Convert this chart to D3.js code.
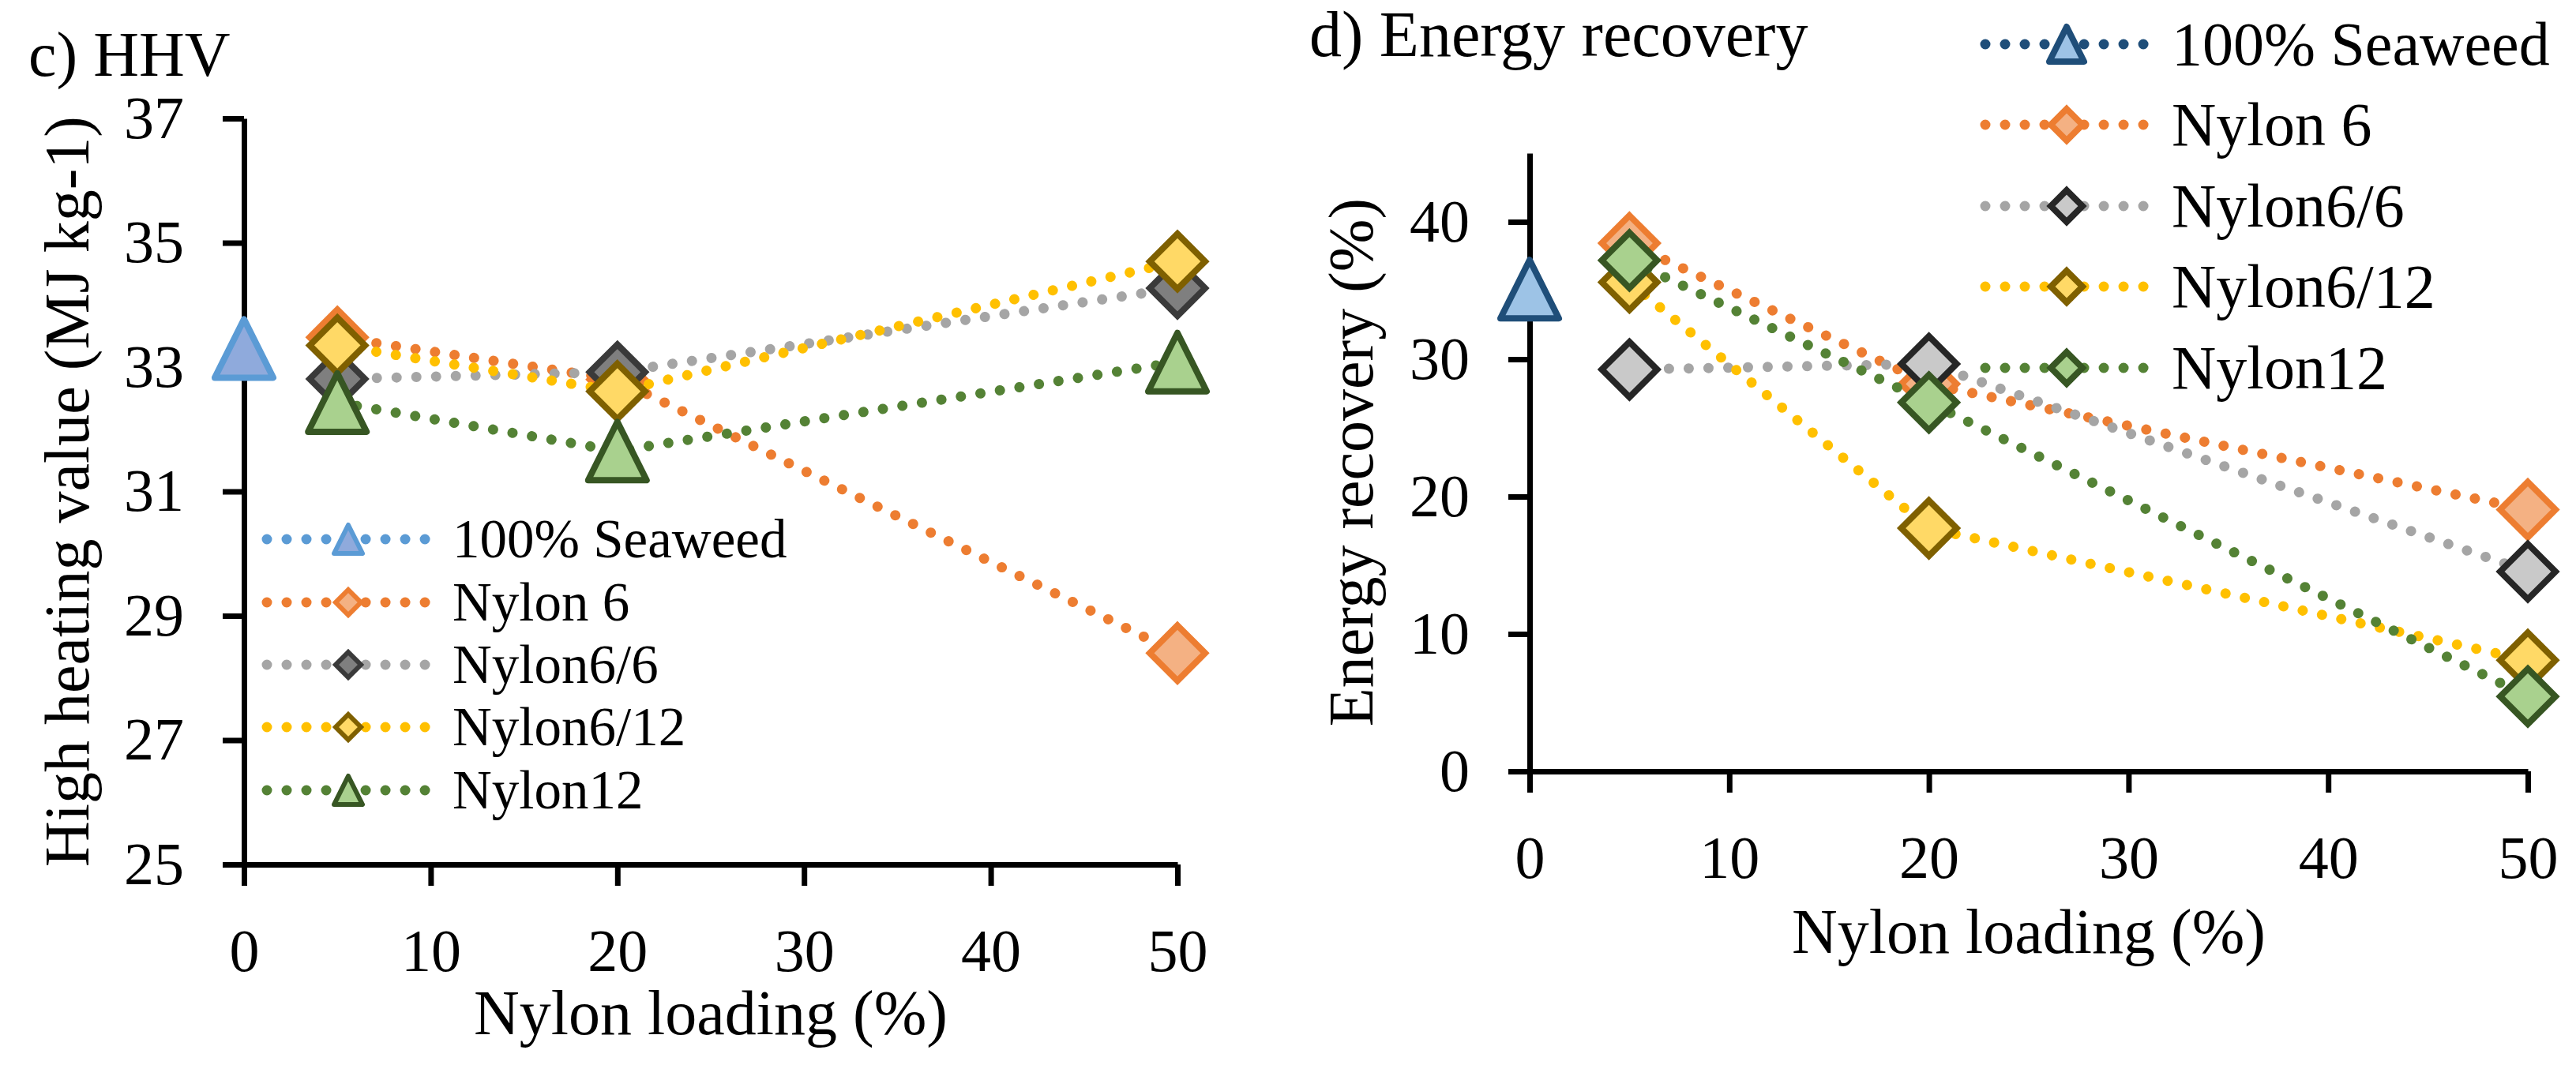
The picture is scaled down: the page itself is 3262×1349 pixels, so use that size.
<!DOCTYPE html>
<html>
<head>
<meta charset="utf-8">
<script src="https://cdn.jsdelivr.net/npm/d3@7"></script>
<style>
  body { margin: 0; background: #fff; }
  text { font-family: "Liberation Serif", "DejaVu Serif", serif; fill: #000; }
</style>
</head>
<body>
<svg id="chart" width="3262" height="1349"></svg>
<script>
// === Data ===
const loading = [5, 20, 50];
const seaweedLoading = [0];
const seriesNames = ['100% Seaweed', 'Nylon 6', 'Nylon6/6', 'Nylon6/12', 'Nylon12'];

// c) HHV, MJ kg-1
const hhvSeaweed = [33.3];
const hhvNylon6 = [33.48, 32.8, 28.4];
const hhvNylon66 = [32.81, 32.92, 34.27];
const hhvNylon612 = [33.35, 32.61, 34.7];
const hhvNylon12 = [32.43, 31.65, 33.08];

// d) Energy recovery, %
const erSeaweed = [35.1];
const erNylon6 = [38.45, 28.2, 19.05];
const erNylon66 = [29.25, 29.66, 14.54];
const erNylon612 = [35.6, 17.7, 8.09];
const erNylon12 = [37.2, 26.85, 5.45];

const xTicks = [0, 10, 20, 30, 40, 50];
const hhvTicks = [25, 27, 29, 31, 33, 35, 37];
const erTicks = [0, 10, 20, 30, 40];

// === Styles ===
const lineColorsC = ['#5B9BD5', '#ED7D31', '#A5A5A5', '#FFC000', '#548235'];
const fillsC = ['#8FAADC', '#F4B183', '#7F7F7F', '#FFD966', '#A9D18E'];
const strokesC = ['#5B9BD5', '#ED7D31', '#3A3A3A', '#7F6000', '#375623'];
const shapesC = ['tri', 'dia', 'dia', 'dia', 'tri'];

const lineColorsD = ['#1F4E79', '#ED7D31', '#A5A5A5', '#FFC000', '#548235'];
const fillsD = ['#9DC3E6', '#F4B183', '#C9C9C9', '#FFD966', '#A9D18E'];
const strokesD = ['#1F4E79', '#ED7D31', '#262626', '#7F6000', '#375623'];
const shapesD = ['tri', 'dia', 'dia', 'dia', 'dia'];

const svg = d3.select('#chart');

function markerPath(shape, h) {
  return shape === 'tri'
    ? `M0,${-h}L${h},${h}L${-h},${h}Z`
    : `M0,${-h}L${h},0L0,${h}L${-h},0Z`;
}

function drawMarker(g, shape, cx, cy, h, fill, stroke, sw) {
  g.append('path')
    .attr('d', markerPath(shape, shape === 'tri' ? h + 2 : h))
    .attr('transform', `translate(${cx},${cy})`)
    .attr('fill', fill)
    .attr('stroke', stroke)
    .attr('stroke-width', sw)
    .attr('stroke-linejoin', shape === 'tri' ? 'round' : 'miter');
}

function drawPanel(p) {
  const g = svg.append('g');
  const x = d3.scaleLinear().domain([0, 50]).range(p.xRange);
  const y = d3.scaleLinear().domain(p.yDomain).range(p.yRange);

  // axes
  const xAxis = g.append('g')
    .attr('transform', `translate(0,${p.yRange[0]})`)
    .call(d3.axisBottom(x).tickValues(xTicks).tickSize(27).tickPadding(54).tickSizeOuter(0));
  const yAxis = g.append('g')
    .attr('transform', `translate(${p.xRange[0]},0)`)
    .call(d3.axisLeft(y).tickValues(p.yTicks).tickSize(27).tickPadding(49).tickSizeOuter(0));
  [xAxis, yAxis].forEach(a => {
    a.select('.domain').attr('stroke', '#000').attr('stroke-width', 7);
    a.selectAll('.tick line').attr('stroke', '#000').attr('stroke-width', 7);
    a.selectAll('.tick text').attr('font-size', 76).attr('fill', '#000')
      .style('font-family', '"Liberation Serif", "DejaVu Serif", serif');
  });

  // series
  const line = d3.line().x(d => x(d[0])).y(d => y(d[1]));
  p.series.forEach((vals, i) => {
    const xs = i === 0 ? seaweedLoading : loading;
    const pts = vals.map((v, j) => [xs[j], v]);
    if (pts.length > 1) {
      g.append('path')
        .attr('d', line(pts))
        .attr('fill', 'none')
        .attr('stroke', p.lineColors[i])
        .attr('stroke-width', 13)
        .attr('stroke-linecap', 'round')
        .attr('stroke-dasharray', '0.01 25');
    }
    pts.forEach(d => drawMarker(g, p.shapes[i], x(d[0]), y(d[1]), 35,
      p.fills[i], p.strokes[i], 8));
  });

  // titles
  g.append('text').attr('x', p.title[1]).attr('y', p.title[2])
    .attr('font-size', p.title[3]).text(p.title[0]);
  g.append('text')
    .attr('transform', `translate(${p.yTitleX},${(p.yRange[0] + p.yRange[1]) / 2}) rotate(-90)`)
    .attr('text-anchor', 'middle').attr('font-size', 80).text(p.yTitle);
  g.append('text')
    .attr('x', (p.xRange[0] + p.xRange[1]) / 2).attr('y', p.xTitleY)
    .attr('text-anchor', 'middle').attr('font-size', 80).text('Nylon loading (%)');

  // legend
  const L = p.legend;
  seriesNames.forEach((name, i) => {
    const ly = L.rows[i];
    g.append('line')
      .attr('x1', L.x0).attr('x2', L.x1).attr('y1', ly).attr('y2', ly)
      .attr('stroke', p.lineColors[i]).attr('stroke-width', 13)
      .attr('stroke-linecap', 'round').attr('stroke-dasharray', '0.01 25');
    drawMarker(g, p.shapes[i], L.mx, ly, L.h, p.fills[i], p.strokes[i], L.sw);
    g.append('text').attr('x', L.tx).attr('y', ly + L.fs * 0.33)
      .attr('font-size', L.fs).text(name);
  });
}

drawPanel({
  xRange: [309, 1491], yDomain: [25, 37], yRange: [1095, 150], yTicks: hhvTicks,
  series: [hhvSeaweed, hhvNylon6, hhvNylon66, hhvNylon612, hhvNylon12],
  lineColors: lineColorsC, fills: fillsC, strokes: strokesC, shapes: shapesC,
  title: ['c) HHV', 36, 96, 80],
  yTitle: 'High heating value (MJ kg-1)', yTitleX: 112, xTitleY: 1310,
  legend: { rows: [683, 763, 842, 921, 1001], x0: 338, x1: 539, mx: 441, tx: 573, fs: 69, h: 16, sw: 6 }
});

drawPanel({
  xRange: [1937, 3201], yDomain: [0, 45], yRange: [977, 194], yTicks: erTicks,
  series: [erSeaweed, erNylon6, erNylon66, erNylon612, erNylon12],
  lineColors: lineColorsD, fills: fillsD, strokes: strokesD, shapes: shapesD,
  title: ['d) Energy recovery', 1658, 71, 82],
  yTitle: 'Energy recovery (%)', yTitleX: 1738, xTitleY: 1207,
  legend: { rows: [56, 158, 261, 363, 466], x0: 2514, x1: 2715, mx: 2617, tx: 2750, fs: 78, h: 20, sw: 8 }
});
</script>
</body>
</html>
